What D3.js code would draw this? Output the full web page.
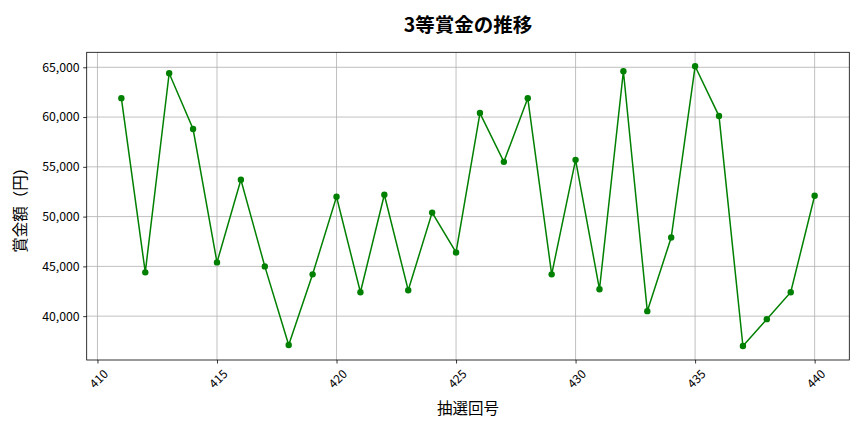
<!DOCTYPE html>
<html><head><meta charset="utf-8">
<script src="https://cdn.jsdelivr.net/npm/d3@7"></script>
<style>
body{margin:0;background:#fff;}
text{font-family:"Noto Sans CJK JP","Noto Sans",sans-serif;}
</style></head>
<body><svg id="c" width="864" height="432"></svg>
<script>
const draws = [411,412,413,414,415,416,417,418,419,420,421,422,423,424,425,426,427,428,429,430,431,432,433,434,435,436,437,438,439,440];
const prizes = [61900,44400,64400,58800,45400,53700,45000,37100,44200,52000,42400,52200,42600,50400,46400,60400,55500,61900,44200,55700,42700,64600,40500,47900,65100,60100,37000,39700,42400,52100];
const xTicks = [410,415,420,425,430,435,440];
const yTicks = [40000,45000,50000,55000,60000,65000];
const titleText = "3等賞金の推移";
const xLabel = "抽選回号";
const yLabel = "賞金額（円）";

const svg = d3.select("#c");
const L=86.7,R=849.3,T=52.3,B=360;
const xmin=d3.min(draws),xmax=d3.max(draws),xr=xmax-xmin;
const ymin=d3.min(prizes),ymax=d3.max(prizes),yr=ymax-ymin;
const x=d3.scaleLinear().domain([xmin-0.05*xr,xmax+0.05*xr]).range([L,R]);
const y=d3.scaleLinear().domain([ymin-0.05*yr,ymax+0.05*yr]).range([B,T]);

// grid
svg.append("g").selectAll("line").data(xTicks).join("line")
  .attr("x1",d=>x(d)).attr("x2",d=>x(d)).attr("y1",T).attr("y2",B)
  .attr("stroke","#b0b0b0").attr("stroke-width",0.8);
svg.append("g").selectAll("line").data(yTicks).join("line")
  .attr("y1",d=>y(d)).attr("y2",d=>y(d)).attr("x1",L).attr("x2",R)
  .attr("stroke","#b0b0b0").attr("stroke-width",0.8);

// axes
const xa=svg.append("g").attr("transform",`translate(0,${B})`)
  .call(d3.axisBottom(x).tickValues(xTicks).tickSize(3.5).tickPadding(3).tickFormat(d3.format("d")));
xa.select(".domain").remove();
xa.selectAll("text").attr("font-size",12).attr("fill","#000")
  .attr("text-anchor","middle").attr("dy",null).attr("y",null)
  .attr("transform","translate(0,18) rotate(-45)").attr("dominant-baseline","central");
xa.selectAll("line").attr("stroke","#000").attr("stroke-width",0.8);

const ya=svg.append("g").attr("transform",`translate(${L},0)`)
  .call(d3.axisLeft(y).tickValues(yTicks).tickSize(3.5).tickPadding(3.5).tickFormat(d3.format(",")));
ya.select(".domain").remove();
ya.selectAll("text").attr("font-size",12.3).attr("fill","#000");
ya.selectAll("line").attr("stroke","#000").attr("stroke-width",0.8);

svg.append("rect").attr("x",L).attr("y",T).attr("width",R-L).attr("height",B-T)
  .attr("fill","none").attr("stroke","#000").attr("stroke-width",0.8);

// line
svg.append("path").datum(draws.map((d,i)=>[d,prizes[i]]))
  .attr("d",d3.line().x(d=>x(d[0])).y(d=>y(d[1])))
  .attr("fill","none").attr("stroke","#008000").attr("stroke-width",1.5);
svg.append("g").selectAll("circle").data(draws.map((d,i)=>[d,prizes[i]])).join("circle")
  .attr("cx",d=>x(d[0])).attr("cy",d=>y(d[1])).attr("r",3.2).attr("fill","#008000");

// labels
svg.append("text").attr("x",(L+R)/2).attr("y",32).attr("text-anchor","middle")
  .attr("font-size",19.5).attr("font-weight","bold").text(titleText);
svg.append("text").attr("x",(L+R)/2).attr("y",414).attr("text-anchor","middle")
  .attr("font-size",15.5).text(xLabel);
svg.append("text").attr("transform",`translate(25.5,${(T+B)/2}) rotate(-90)`).attr("text-anchor","middle")
  .attr("font-size",15.5).text(yLabel);
</script></body></html>
